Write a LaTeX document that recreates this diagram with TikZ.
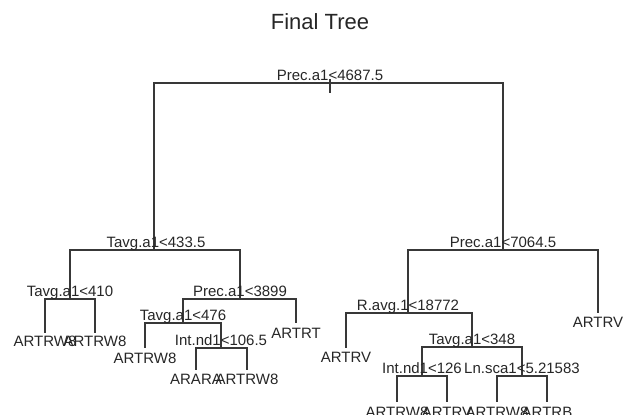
\documentclass[tikz,border=0pt]{standalone}
\usepackage{fontspec}
\setmainfont{Liberation Sans}
\begin{document}
\begin{tikzpicture}[x=1pt,y=-1pt,
  edge/.style={draw=black!78,line width=1.2pt},
  split/.style={anchor=base,inner sep=0pt,text=black!85,font=\fontsize{15}{17}\selectfont},
  leaf/.style={anchor=base,inner sep=0pt,text=black!85,font=\fontsize{15}{17}\selectfont}]
\useasboundingbox (0,0) rectangle (624,415);
\node[anchor=base,inner sep=0pt,text=black!85,font=\fontsize{22}{24}\selectfont] (title) at (320,29) {Final Tree};

% split points (on their horizontal bars)
\coordinate (n1) at (330,83);
\coordinate (n2) at (154,250);
\coordinate (n3) at (503,250);
\coordinate (n4) at (70,299);
\coordinate (n5) at (240,299);
\coordinate (n6) at (183,323);
\coordinate (n7) at (221,348);
\coordinate (n8) at (408,313);
\coordinate (n9) at (472,347);
\coordinate (n10) at (422,376);
\coordinate (n11) at (522,376);
% leaf ends
\coordinate (l1) at (45,333);
\coordinate (l2) at (95,333);
\coordinate (l3) at (145,348);
\coordinate (l4) at (196,370);
\coordinate (l5) at (247,370);
\coordinate (l6) at (296,323);
\coordinate (l7) at (346,348);
\coordinate (l8) at (397,402);
\coordinate (l9) at (447,402);
\coordinate (l10) at (497,402);
\coordinate (l11) at (547,402);
\coordinate (l12) at (598,313);

% branches
\draw[edge] (330,79) -- (330,93);
\foreach \p/\a/\b in {n1/n2/n3, n2/n4/n5, n3/n8/l12, n4/l1/l2, n5/n6/l6,
                      n6/l3/n7, n7/l4/l5, n8/l7/n9, n9/n10/n11,
                      n10/l8/l9, n11/l10/l11}
  \draw[edge] (\p) -| (\a) (\p) -| (\b);

% split labels (baseline just above the bar)
\node[split] (s1) at ([yshift=3pt]n1) {Prec.a1<4687.5};
\node[split] (s2) at ([yshift=3pt,xshift=2pt]n2) {Tavg.a1<433.5};
\node[split] (s3) at ([yshift=3pt]n3) {Prec.a1<7064.5};
\node[split] (s4) at ([yshift=3pt]n4) {Tavg.a1<410};
\node[split] (s5) at ([yshift=3pt]n5) {Prec.a1<3899};
\node[split] (s6) at ([yshift=3pt]n6) {Tavg.a1<476};
\node[split] (s7) at ([yshift=3pt]n7) {Int.nd1<106.5};
\node[split] (s8) at ([yshift=3pt]n8) {R.avg.1<18772};
\node[split] (s9) at ([yshift=3pt]n9) {Tavg.a1<348};
\node[split] (s10) at ([yshift=3pt]n10) {Int.nd1<126};
\node[split] (s11) at ([yshift=3pt]n11) {Ln.sca1<5.21583};

% leaf labels (below the branch ends)
\node[leaf] (t1) at ([yshift=-13pt]l1) {ARTRW8};
\node[leaf] (t2) at ([yshift=-13pt]l2) {ARTRW8};
\node[leaf] (t3) at ([yshift=-15pt]l3) {ARTRW8};
\node[leaf] (t4) at ([yshift=-14pt]l4) {ARARA};
\node[leaf] (t5) at ([yshift=-14pt]l5) {ARTRW8};
\node[leaf] (t6) at ([yshift=-15pt]l6) {ARTRT};
\node[leaf] (t7) at ([yshift=-14pt]l7) {ARTRV};
\node[leaf] (t8) at ([yshift=-15pt]l8) {ARTRW8};
\node[leaf] (t9) at ([yshift=-15pt]l9) {ARTRV};
\node[leaf] (t10) at ([yshift=-15pt]l10) {ARTRW8};
\node[leaf] (t11) at ([yshift=-15pt]l11) {ARTRB};
\node[leaf] (t12) at ([yshift=-14pt]l12) {ARTRV};
\end{tikzpicture}
\end{document}
